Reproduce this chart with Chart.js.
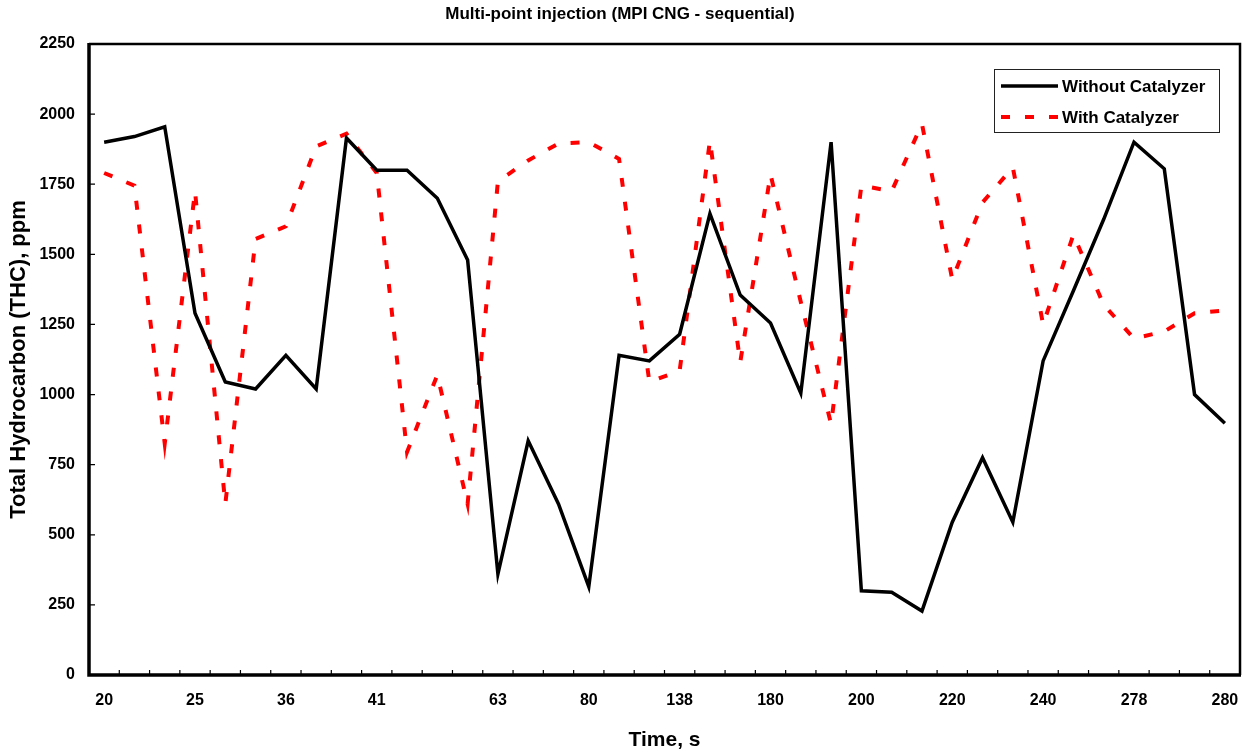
<!DOCTYPE html>
<html>
<head>
<meta charset="utf-8">
<title>THC - MPI CNG sequential</title>
<script src="https://cdn.jsdelivr.net/npm/chart.js@4.4.0/dist/chart.umd.min.js"></script>
<style>
  html, body { margin: 0; padding: 0; background: #fff; }
</style>
</head>
<body>
<canvas id="thc" width="1242" height="755"></canvas>
<script>
// time axis: only every few samples carries a printed label
const timeLabels = [
  '20', '', '', '25', '', '', '36', '', '', '41', '', '', '', '63', '', '', '80', '', '',
  '138', '', '', '180', '', '', '200', '', '', '220', '', '', '240', '', '', '278', '', '', '280'
];

// THC, ppm
const withoutCatalyzer = [
  1900, 1920, 1955, 1290, 1045, 1020, 1140, 1020, 1915, 1800, 1800, 1700, 1480,
  360, 835, 610, 315, 1140, 1120, 1215, 1645, 1355, 1255, 1005, 1900,
  300, 295, 228, 545, 775, 545, 1120, 1370, 1625, 1900, 1805, 1000, 898
];
const withCatalyzer = [
  1790, 1745, 825, 1725, 610, 1555, 1600, 1885, 1930, 1790, 795, 1070, 610,
  1760, 1835, 1895, 1900, 1840, 1045, 1085, 1905, 1115, 1785, 1330, 895,
  1745, 1725, 1965, 1410, 1685, 1810, 1250, 1570, 1320, 1200, 1225, 1290, 1300
];

const yMin = 0;
const yMax = 2250;
const yStep = 250;

const FONT = "'Liberation Sans', Arial, Helvetica, sans-serif";
Chart.defaults.font.family = FONT;
Chart.defaults.color = '#000';

// plot frame plus short tick marks pointing into the plot
const framePlugin = {
  id: 'frame',
  afterDraw(chart) {
    const { ctx, chartArea: a, scales } = chart;
    ctx.save();
    ctx.strokeStyle = '#000';

    ctx.lineWidth = 2.5;
    ctx.beginPath();
    ctx.moveTo(a.left, a.top);
    ctx.lineTo(a.right, a.top);
    ctx.lineTo(a.right, a.bottom);
    ctx.stroke();

    ctx.lineWidth = 1.2;
    ctx.beginPath();
    for (let k = 0; k <= timeLabels.length; k++) {
      const x = scales.x.getPixelForValue(k - 0.5);
      ctx.moveTo(x, a.bottom);
      ctx.lineTo(x, a.bottom - 5);
    }
    for (let v = yMin; v <= yMax; v += yStep) {
      const y = scales.y.getPixelForValue(v);
      ctx.moveTo(a.left, y);
      ctx.lineTo(a.left + 6, y);
    }
    ctx.stroke();

    ctx.lineWidth = 3.5;
    ctx.beginPath();
    ctx.moveTo(a.left, a.top - 1);
    ctx.lineTo(a.left, a.bottom);
    ctx.lineTo(a.right + 1, a.bottom);
    ctx.stroke();
    ctx.restore();
  }
};

// boxed legend in the upper right corner of the plot
const boxLegend = {
  id: 'boxLegend',
  afterDraw(chart) {
    const { ctx } = chart;
    const x0 = 994.5, y0 = 69.5, w = 225, h = 63;
    ctx.save();
    ctx.fillStyle = '#fff';
    ctx.fillRect(x0, y0, w, h);
    ctx.strokeStyle = '#222';
    ctx.lineWidth = 1;
    ctx.strokeRect(x0, y0, w, h);

    chart.data.datasets.forEach((ds, i) => {
      const y = 86 + i * 31;
      ctx.strokeStyle = ds.borderColor;
      ctx.lineWidth = ds.borderWidth;
      ctx.setLineDash(ds.borderDash || []);
      ctx.beginPath();
      ctx.moveTo(1001, y);
      ctx.lineTo(1058, y);
      ctx.stroke();
      ctx.setLineDash([]);
      ctx.fillStyle = '#000';
      ctx.font = 'bold 17px ' + FONT;
      ctx.textAlign = 'left';
      ctx.textBaseline = 'middle';
      ctx.fillText(ds.label, 1062, y + 1);
    });
    ctx.restore();
  }
};

new Chart(document.getElementById('thc'), {
  type: 'line',
  data: {
    labels: timeLabels,
    datasets: [
      {
        label: 'Without Catalyzer',
        data: withoutCatalyzer,
        borderColor: '#000',
        borderWidth: 3.5,
        borderJoinStyle: 'miter',
        pointRadius: 0,
        tension: 0,
        fill: false
      },
      {
        label: 'With Catalyzer',
        data: withCatalyzer,
        borderColor: '#ff0000',
        borderWidth: 4,
        borderDash: [9, 15],
        borderCapStyle: 'butt',
        pointRadius: 0,
        tension: 0,
        fill: false
      }
    ]
  },
  options: {
    responsive: false,
    devicePixelRatio: 1,
    animation: false,
    layout: { padding: { left: 0, right: 2, top: 0, bottom: 0 } },
    plugins: {
      legend: { display: false },
      tooltip: { enabled: false },
      title: {
        display: true,
        text: 'Multi-point injection (MPI CNG - sequential)',
        color: '#000',
        font: { size: 17, weight: 'bold' },
        padding: { top: 4, bottom: 19.6 }
      }
    },
    scales: {
      x: {
        type: 'category',
        offset: true,
        grid: { display: false, drawTicks: false, tickLength: 0 },
        border: { display: false },
        ticks: {
          autoSkip: false,
          maxRotation: 0,
          color: '#000',
          font: { size: 16, weight: 'bold' },
          padding: 16
        },
        title: {
          display: true,
          text: 'Time, s',
          color: '#000',
          font: { size: 21, weight: 'bold' },
          padding: { top: 0, bottom: 2 }
        },
        afterFit(scale) {
          scale.height = 80;
          scale.paddingLeft = 0;
          scale.paddingRight = 0;
        }
      },
      y: {
        min: yMin,
        max: yMax,
        grid: { display: false, drawTicks: false, tickLength: 0 },
        border: { display: false },
        ticks: {
          stepSize: yStep,
          color: '#000',
          font: { size: 16, weight: 'bold' },
          padding: 14,
          callback: (v) => String(v)
        },
        title: {
          display: true,
          text: 'Total Hydrocarbon (THC), ppm',
          color: '#000',
          font: { size: 22, weight: 'bold' },
          padding: { top: 6 }
        },
        afterFit(scale) {
          scale.width = 89;
          scale.paddingTop = 0;
          scale.paddingBottom = 0;
        }
      }
    }
  },
  plugins: [framePlugin, boxLegend]
});
</script>
</body>
</html>
